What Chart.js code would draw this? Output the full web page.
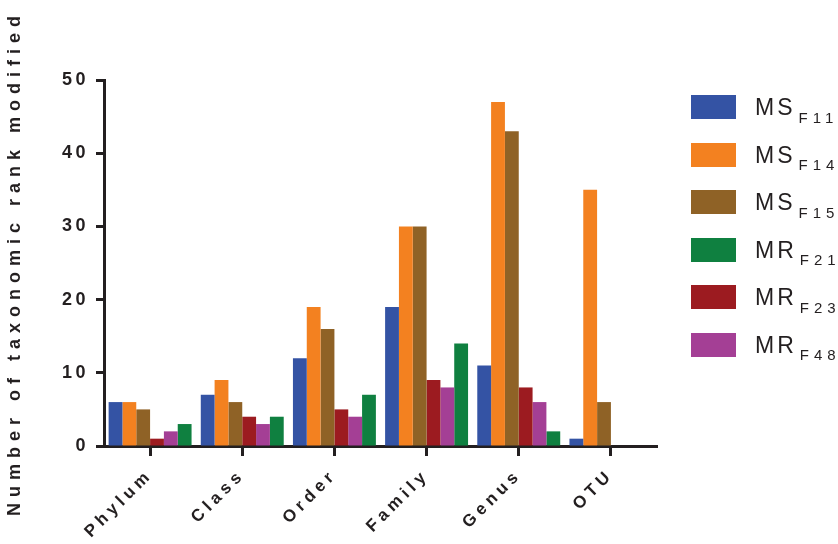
<!DOCTYPE html>
<html>
<head>
<meta charset="utf-8">
<script src="https://cdn.jsdelivr.net/npm/chart.js@4.4.1/dist/chart.umd.min.js"></script>
<style>
  html, body { margin: 0; padding: 0; background: #fff; }
  #wrap { position: relative; width: 838px; height: 544px; }
  #legend { position: absolute; left: 691px; top: 95px; font-family: "Liberation Sans", Arial, sans-serif; color: #231f20; }
  .item { position: relative; height: 47.6px; }
  .box { position: absolute; left: 0; top: 0; width: 45px; height: 24px; }
  .lbl { position: absolute; left: 64px; top: 1px; font-size: 23px; line-height: 22px; letter-spacing: 3px; white-space: nowrap; }
  .lbl span { font-size: 15px; letter-spacing: 5px; position: relative; top: 7.5px; margin-left: 3px; }
</style>
</head>
<body>
<div id="wrap">
  <canvas id="chart" width="838" height="544"></canvas>
  <div id="legend"></div>
</div>
<script>
const categories = ["Phylum", "Class", "Order", "Family", "Genus", "OTU"];

const msF11 = [6, 7, 12, 19, 11, 1];
const msF14 = [6, 9, 19, 30, 47, 35];
const msF15 = [5, 6, 16, 30, 43, 6];
const mrF23 = [1, 4, 5, 9, 8, 0];
const mrF48 = [2, 3, 4, 8, 6, 0];
const mrF21 = [3, 4, 7, 14, 2, 0];

const yTicks = [0, 10, 20, 30, 40, 50];

// bars are drawn in this order, legend lists them in another
const series = [
  { main: "MS", sub: "F11", data: msF11, color: "#3453a4" },
  { main: "MS", sub: "F14", data: msF14, color: "#f38120" },
  { main: "MS", sub: "F15", data: msF15, color: "#8f6226" },
  { main: "MR", sub: "F23", data: mrF23, color: "#9c1b20" },
  { main: "MR", sub: "F48", data: mrF48, color: "#a43f95" },
  { main: "MR", sub: "F21", data: mrF21, color: "#0f8040" },
];
const legendOrder = ["F11", "F14", "F15", "F21", "F23", "F48"];

const ink = "#231f20";
const fontFamily = "'Liberation Sans', Arial, sans-serif";

// wrap a scale draw method so its text gets letter spacing
function spaced(scale, method, sp) {
  if (scale["_sp_" + method]) return;
  const orig = scale[method].bind(scale);
  scale[method] = function (...args) {
    const ctx = scale.ctx;
    const prev = ctx.letterSpacing;
    ctx.letterSpacing = sp;
    orig(...args);
    ctx.letterSpacing = prev;
  };
  scale["_sp_" + method] = true;
}

const spacingPlugin = {
  id: "spacing",
  beforeDraw(chart) {
    spaced(chart.scales.y, "drawTitle", "6px");
    spaced(chart.scales.y, "drawLabels", "3.5px");
    spaced(chart.scales.x, "drawLabels", "4.5px");
  },
};

const renderChart = () => {
  const ctx = document.getElementById("chart").getContext("2d");
  new Chart(ctx, {
    type: "bar",
    data: {
      labels: categories,
      datasets: series.map((s) => ({
        label: s.main + " " + s.sub,
        data: s.data,
        backgroundColor: s.color,
        borderWidth: 0,
        categoryPercentage: 0.9,
        barPercentage: 1.0,
      })),
    },
    options: {
      responsive: false,
      animation: false,
      layout: { padding: { left: 0, right: 181, top: 80, bottom: 0 } },
      plugins: { legend: { display: false }, tooltip: { enabled: false } },
      scales: {
        x: {
          offset: true,
          grid: { display: true, drawOnChartArea: false, offset: false, tickLength: 10, tickWidth: 3, tickColor: ink },
          border: { display: true, width: 3, color: ink },
          ticks: {
            autoSkip: false,
            maxRotation: 45,
            minRotation: 45,
            padding: 9,
            color: ink,
            font: { family: fontFamily, size: 17, weight: "bold" },
          },
          afterFit: (s) => { s.height = 98; },
        },
        y: {
          min: 0,
          max: 50,
          afterBuildTicks: (s) => { s.ticks = yTicks.map((v) => ({ value: v })); },
          grid: { display: true, drawOnChartArea: false, tickLength: 8, tickWidth: 3, tickColor: ink },
          border: { display: true, width: 3, color: ink },
          ticks: {
            padding: 7,
            color: ink,
            font: { family: fontFamily, size: 18, weight: "bold" },
          },
          title: {
            display: true,
            text: "Number of taxonomic rank modified",
            color: ink,
            font: { family: fontFamily, size: 18, weight: "bold" },
            padding: { top: 4, bottom: 0 },
          },
          afterFit: (s) => { s.width = 104; },
        },
      },
    },
    plugins: [spacingPlugin],
  });
};

const renderLegend = () => {
  const el = document.getElementById("legend");
  legendOrder.forEach((key) => {
    const s = series.find((d) => d.sub === key);
    const item = document.createElement("div");
    item.className = "item";
    item.innerHTML =
      '<div class="box" style="background:' + s.color + '"></div>' +
      '<div class="lbl">' + s.main + "<span>" + s.sub + "</span></div>";
    el.appendChild(item);
  });
};

renderChart();
renderLegend();
</script>
</body>
</html>
